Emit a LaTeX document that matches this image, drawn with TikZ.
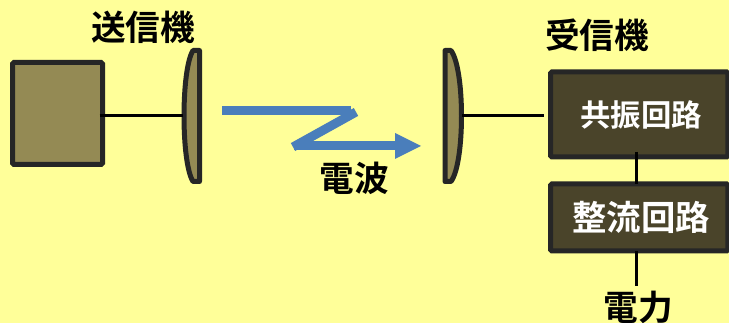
\documentclass[tikz,border=0pt]{standalone}
\usepackage{fontspec}
\newfontfamily\cjkbold[BoldFont={Noto Sans CJK JP Bold}]{Noto Sans CJK JP}
\definecolor{pagebg}{RGB}{255,255,153}
\definecolor{boxfill}{RGB}{148,138,84}
\definecolor{circfill}{RGB}{74,68,42}
\definecolor{edgegray}{RGB}{38,38,38}
\definecolor{waveblue}{RGB}{74,126,187}
\tikzset{
  unitbox/.style={draw=edgegray,line width=3.75pt,rounded corners=1pt,outer sep=0pt,inner sep=0pt},
  dish/.style={draw=edgegray,fill=boxfill,line width=3.75pt,line join=round},
  wire/.style={draw=black,line width=2.25pt},
  wave/.style={draw=waveblue,line width=6.75pt},
  caption/.style={inner sep=0pt,font=\cjkbold\bfseries\fontsize{26}{30}\selectfont},
}
\begin{document}
\begin{tikzpicture}[x=0.75pt,y=0.75pt,yscale=-1,xscale=1]
  \path[fill=pagebg,use as bounding box] (0,0) rectangle (729,323);
  \clip (0,0) rectangle (729,323);
  % Boxes
  \node[unitbox,fill=boxfill,minimum width=67.5pt,minimum height=76.5pt] (txbox) at (57.5,113.5) {};
  \node[unitbox,fill=circfill,minimum width=133.1pt,minimum height=63.75pt,text=white,font=\cjkbold\bfseries\fontsize{22.8}{26}\selectfont] (resbox) at (639.25,114.5) {\hspace{3pt}共振回路};
  \node[unitbox,fill=circfill,minimum width=133.1pt,minimum height=50.25pt,text=white,font=\cjkbold\bfseries\fontsize{25.8}{30}\selectfont] (rectbox) at (639.25,217.5) {\hspace{3pt}整流回路};
  % Dishes
  \draw[dish] (199.5,50.5) -- (193,50.5) .. controls (187,60) and (184,88) .. (184,116) .. controls (184,144) and (187,172) .. (193,181.5) -- (199.5,181.5) -- cycle;
  \draw[dish] (445,50.5) -- (451,50.5) .. controls (458,60) and (461.5,88) .. (461.5,116) .. controls (461.5,144) and (458,172) .. (451,181.5) -- (445,181.5) -- cycle;
  % Wire ends
  \coordinate (txfeed) at (183,116);
  \coordinate (rxfeed) at (462,115.5);
  \coordinate (rxend) at (544,115.5);
  \coordinate (restap) at (636.5,152);
  \coordinate (rectend) at (636.5,286);
  % Wires
  \draw[wire] (txbox.east |- txfeed) ++(-3,0) -- (txfeed);
  \draw[wire] (rxfeed) -- (rxend);
  \draw[wire] (restap) -- (restap |- rectbox.north);
  \draw[wire] (restap |- rectbox.south) -- (rectend);
  % Radio wave
  \coordinate (wavea) at (222,110.5);
  \coordinate (waveb) at (351,110.5);
  \coordinate (wavec) at (356,112);
  \coordinate (waved) at (293,147);
  \coordinate (wavee) at (294,146);
  \coordinate (wavef) at (396,146);
  \draw[wave] (wavea) -- (waveb);
  \draw[wave] (wavec) -- (waved);
  \draw[wave] (wavee) -- (wavef);
  \fill[waveblue] (395,133) -- (421,146) -- (395,159) -- cycle;
  % Text Node
  \node[caption] (txlabel) at (143,27) {送信機};
  \node[caption] (rxlabel) at (597,35) {受信機};
  \node[caption] (wavelabel) at (354.5,178) {電波};
  \node[caption] (powerlabel) at (638,307) {電力};
\end{tikzpicture}
\end{document}
